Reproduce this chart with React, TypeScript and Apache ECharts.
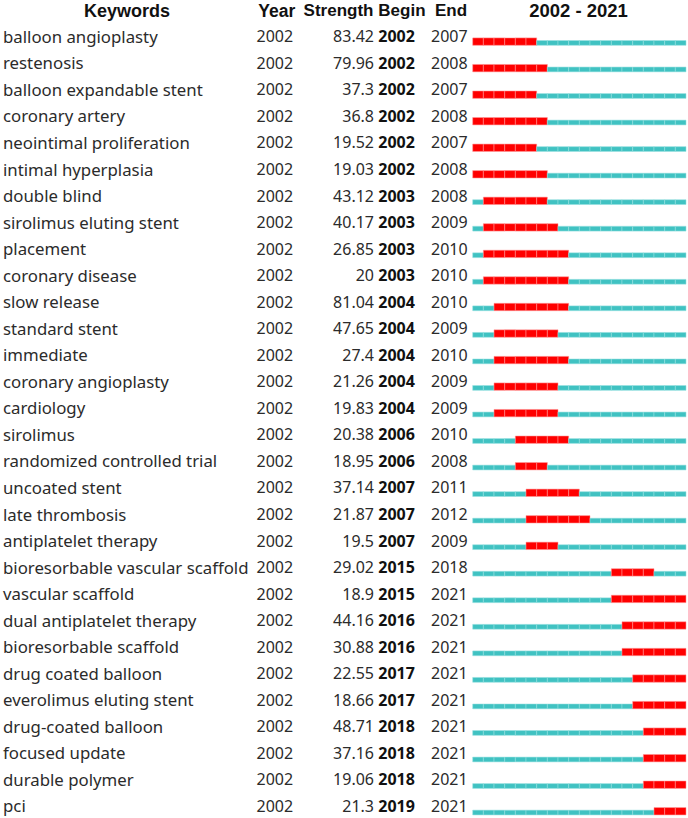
import React, { useEffect, useRef } from "react";
import * as echarts from "echarts";

const keywords = [
  "balloon angioplasty",
  "restenosis",
  "balloon expandable stent",
  "coronary artery",
  "neointimal proliferation",
  "intimal hyperplasia",
  "double blind",
  "sirolimus eluting stent",
  "placement",
  "coronary disease",
  "slow release",
  "standard stent",
  "immediate",
  "coronary angioplasty",
  "cardiology",
  "sirolimus",
  "randomized controlled trial",
  "uncoated stent",
  "late thrombosis",
  "antiplatelet therapy",
  "bioresorbable vascular scaffold",
  "vascular scaffold",
  "dual antiplatelet therapy",
  "bioresorbable scaffold",
  "drug coated balloon",
  "everolimus eluting stent",
  "drug-coated balloon",
  "focused update",
  "durable polymer",
  "pci",
];
const firstYears = [
  2002, 2002, 2002, 2002, 2002, 2002, 2002, 2002, 2002, 2002,
  2002, 2002, 2002, 2002, 2002, 2002, 2002, 2002, 2002, 2002,
  2002, 2002, 2002, 2002, 2002, 2002, 2002, 2002, 2002, 2002,
];
const strengths = [
  83.42, 79.96, 37.3, 36.8, 19.52, 19.03, 43.12, 40.17, 26.85, 20,
  81.04, 47.65, 27.4, 21.26, 19.83, 20.38, 18.95, 37.14, 21.87, 19.5,
  29.02, 18.9, 44.16, 30.88, 22.55, 18.66, 48.71, 37.16, 19.06, 21.3,
];
const beginYears = [
  2002, 2002, 2002, 2002, 2002, 2002, 2003, 2003, 2003, 2003,
  2004, 2004, 2004, 2004, 2004, 2006, 2006, 2007, 2007, 2007,
  2015, 2015, 2016, 2016, 2017, 2017, 2018, 2018, 2018, 2019,
];
const endYears = [
  2007, 2008, 2007, 2008, 2007, 2008, 2008, 2009, 2010, 2010,
  2010, 2009, 2010, 2009, 2009, 2010, 2008, 2011, 2012, 2009,
  2018, 2021, 2021, 2021, 2021, 2021, 2021, 2021, 2021, 2021,
];
const rangeStart = 2002;
const rangeEnd = 2021;
const headers = ["Keywords", "Year", "Strength", "Begin", "End", "2002 - 2021"];

const FONT = "'Noto Sans', 'Open Sans', sans-serif";
const HFONT = "'Liberation Sans', Arial, sans-serif";
const TEXT = "#2b2b2b";

export default function App() {
  const ref = useRef<HTMLDivElement>(null);
  useEffect(() => {
    document.body.style.margin = "0";
    const chart = echarts.init(ref.current!, null, { renderer: "svg" });
    const rows = keywords.map((k, i) => [i, beginYears[i], endYears[i]]);

    const barItem = (params: any, api: any) => {
      const i = api.value(0);
      const b = api.value(1);
      const e = api.value(2);
      const children: any[] = [];
      for (let y = rangeStart; y <= rangeEnd; y++) {
        const p0 = api.coord([y, i + 1]);
        const p1 = api.coord([y + 1, i + 1]);
        const hot = y >= b && y <= e;
        const h = hot ? 7.4 : 4.8;
        children.push({
          type: "rect",
          shape: { x: p0[0], y: p0[1] - h, width: p1[0] - p0[0], height: h },
          style: {
            fill: hot ? "#FF0000" : "#40C2C2",
            stroke: hot ? "rgba(255,150,150,0.9)" : "rgba(150,225,225,0.9)",
            lineWidth: 0.6,
          },
        });
      }
      return { type: "group", children };
    };

    const textItem = (params: any, api: any) => {
      const i = api.value(0);
      const y = api.coord([rangeStart, i + 1])[1] - 9;
      const base = { fontSize: 16, fontFamily: FONT, verticalAlign: "middle", fill: TEXT };
      return {
        type: "group",
        children: [
          { type: "text", x: 3, y, style: { ...base, fontSize: 16.8, text: keywords[i], align: "left" } },
          { type: "text", x: 256.5, y, style: { ...base, text: String(firstYears[i]), align: "left" } },
          { type: "text", x: 374, y, style: { ...base, text: String(strengths[i]), align: "right" } },
          { type: "text", x: 378.3, y, style: { ...base, text: String(beginYears[i]), align: "left", fontWeight: "bold", fill: "#111" } },
          { type: "text", x: 431, y, style: { ...base, text: String(endYears[i]), align: "left" } },
        ],
      };
    };

    const hStyle = { fontSize: 17, fontFamily: HFONT, fontWeight: "bold", fill: "#111", verticalAlign: "middle" };
    chart.setOption({
      animation: false,
      grid: { left: 472.7, right: 2, top: 18.76, height: 796.2 },
      xAxis: { type: "value", min: 2002, max: 2022, show: false },
      yAxis: { type: "value", min: 0, max: 30, inverse: true, show: false },
      graphic: [
        { type: "text", x: 127, y: 10.5, style: { ...hStyle, fontSize: 18, text: headers[0], align: "center" } },
        { type: "text", x: 258.3, y: 10.5, style: { ...hStyle, fontSize: 17.5, text: headers[1], align: "left" } },
        { type: "text", x: 373.5, y: 10.5, style: { ...hStyle, text: headers[2], align: "right" } },
        { type: "text", x: 378.3, y: 10.5, style: { ...hStyle, text: headers[3], align: "left" } },
        { type: "text", x: 435, y: 10.5, style: { ...hStyle, text: headers[4], align: "left" } },
        { type: "text", x: 578.5, y: 10.5, style: { ...hStyle, fontSize: 18.5, text: headers[5], align: "center" } },
      ],
      series: [
        { type: "custom", renderItem: barItem, data: rows, encode: { x: [1, 2], y: 0 }, silent: true },
        { type: "custom", renderItem: textItem, data: rows, encode: { x: [1, 2], y: 0 }, silent: true },
      ],
    });
    return () => chart.dispose();
  }, []);
  return <div ref={ref} style={{ width: 688, height: 818 }} />;
}
